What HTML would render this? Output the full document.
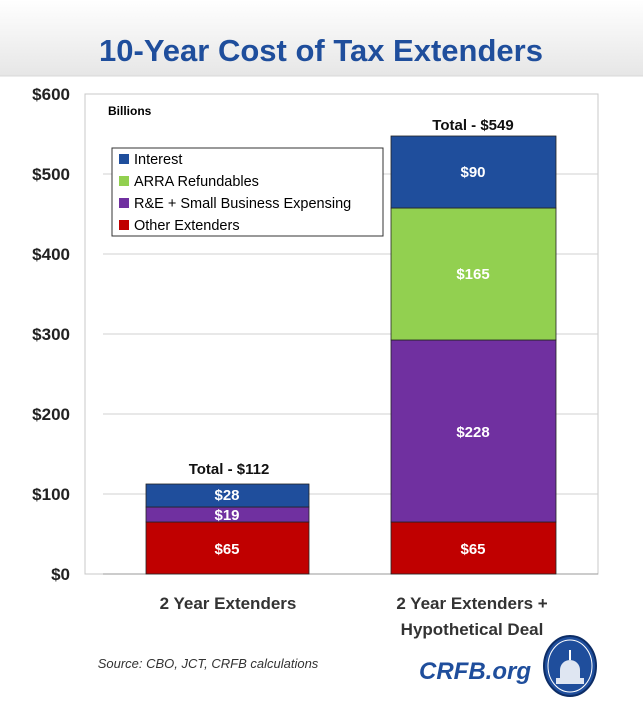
<!DOCTYPE html>
<html><head><style>
body{margin:0;background:#fff;}
svg{display:block;font-family:"Liberation Sans",sans-serif;}
</style></head><body>
<svg width="643" height="706" viewBox="0 0 643 706" xmlns="http://www.w3.org/2000/svg">
<defs><linearGradient id="g" x1="0" y1="0" x2="0" y2="1"><stop offset="0" stop-color="#fff"/><stop offset="1" stop-color="#e6e6e6"/></linearGradient></defs>
<rect x="0" y="0" width="643" height="76" fill="url(#g)"/>
<line x1="0" y1="76" x2="643" y2="76" stroke="#d8d8d8"/>
<text x="321" y="61" text-anchor="middle" font-size="31" font-weight="bold" fill="#1F4E9C">10-Year Cost of Tax Extenders</text>
<rect x="85" y="94" width="513" height="480" fill="none" stroke="#c8c8c8"/>
<g stroke="#d0d0d0">
<line x1="103" y1="174" x2="598" y2="174"/><line x1="103" y1="254" x2="598" y2="254"/>
<line x1="103" y1="334" x2="598" y2="334"/><line x1="103" y1="414" x2="598" y2="414"/>
<line x1="103" y1="494" x2="598" y2="494"/>
</g>
<line x1="103" y1="574" x2="598" y2="574" stroke="#999"/>
<g font-size="17" font-weight="bold" fill="#222" text-anchor="end">
<text x="70" y="100">$600</text><text x="70" y="180">$500</text><text x="70" y="260">$400</text>
<text x="70" y="340">$300</text><text x="70" y="420">$200</text><text x="70" y="500">$100</text><text x="70" y="580">$0</text>
</g>
<text x="108" y="115" font-size="12" font-weight="bold" fill="#000">Billions</text>
<g stroke="#222" stroke-width="0.8">
<rect x="146" y="522" width="163" height="52" fill="#C00000"/>
<rect x="146" y="507" width="163" height="15" fill="#7030A0"/>
<rect x="146" y="484" width="163" height="23" fill="#1F4E9C"/>
<rect x="391" y="522" width="165" height="52" fill="#C00000"/>
<rect x="391" y="340" width="165" height="182" fill="#7030A0"/>
<rect x="391" y="208" width="165" height="132" fill="#92D050"/>
<rect x="391" y="136" width="165" height="72" fill="#1F4E9C"/>
</g>
<g font-size="15" font-weight="bold" fill="#fff" text-anchor="middle">
<text x="227" y="554">$65</text><text x="227" y="520">$19</text><text x="227" y="500">$28</text>
<text x="473" y="554">$65</text><text x="473" y="437">$228</text><text x="473" y="279">$165</text><text x="473" y="177">$90</text>
</g>
<g font-size="15" font-weight="bold" fill="#111" text-anchor="middle">
<text x="229" y="474">Total - $112</text><text x="473" y="130">Total - $549</text>
</g>
<rect x="112" y="148" width="271" height="88" fill="#fff" stroke="#333"/>
<rect x="119" y="154" width="10" height="10" fill="#1F4E9C"/>
<rect x="119" y="176" width="10" height="10" fill="#92D050"/>
<rect x="119" y="198" width="10" height="10" fill="#7030A0"/>
<rect x="119" y="220" width="10" height="10" fill="#C00000"/>
<g font-size="14.5" fill="#000">
<text x="134" y="164">Interest</text><text x="134" y="186">ARRA Refundables</text>
<text x="134" y="208">R&amp;E + Small Business Expensing</text><text x="134" y="230">Other Extenders</text>
</g>
<g font-size="17" font-weight="bold" fill="#333" text-anchor="middle">
<text x="228" y="609">2 Year Extenders</text>
<text x="472" y="609">2 Year Extenders +</text>
<text x="472" y="635">Hypothetical Deal</text>
</g>
<text x="208" y="668" text-anchor="middle" font-size="13" font-style="italic" fill="#333">Source: CBO, JCT, CRFB calculations</text>
<text x="475" y="679" text-anchor="middle" font-size="24" font-style="italic" font-weight="bold" fill="#1F4E9C">CRFB.org</text>
<ellipse cx="570" cy="666" rx="26" ry="30" fill="#1F4E9C" stroke="#0d2d66" stroke-width="2"/>
<ellipse cx="570" cy="666" rx="22" ry="26" fill="none" stroke="#fff" stroke-width="1"/>
<path d="M556 684 h28 v-6 h-4 v-8 a10 10 0 0 0 -20 0 v8 h-4z" fill="#dfe6f2"/>
<line x1="570" y1="650" x2="570" y2="660" stroke="#fff" stroke-width="2"/>
</svg>
</body></html>
